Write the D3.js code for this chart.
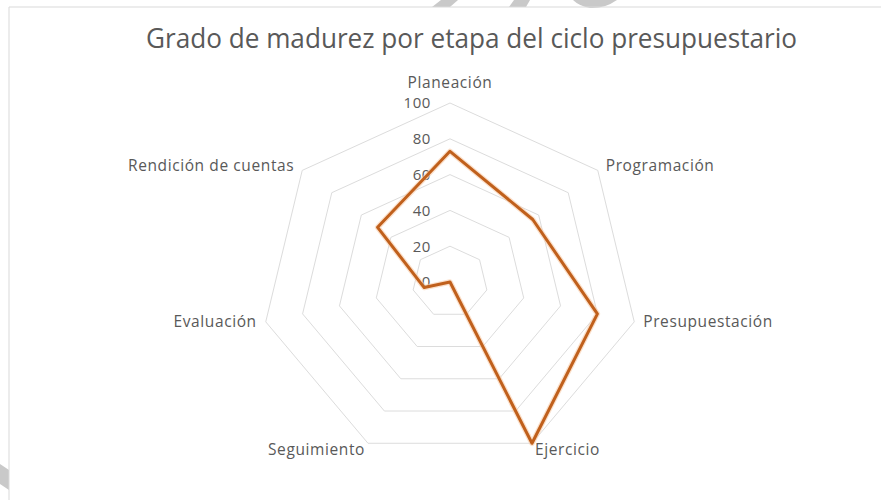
<!DOCTYPE html>
<html>
<head>
<meta charset="utf-8">
<script src="https://cdn.jsdelivr.net/npm/d3@7"></script>
<style>
  html, body { margin: 0; padding: 0; background: #ffffff; }
  svg { display: block; }
  text { font-family: "Open Sans", "Noto Sans", sans-serif; fill: #595959; }
</style>
</head>
<body>
<svg id="chart" width="881" height="500"></svg>
<script>
const title = "Grado de madurez por etapa del ciclo presupuestario";
const categories = ["Planeación", "Programación", "Presupuestación", "Ejercicio", "Seguimiento", "Evaluación", "Rendición de cuentas"];
const values = [73, 56, 80, 100, 0, 14, 49];
const tickValues = [0, 20, 40, 60, 80, 100];

const svg = d3.select("#chart");
const W = 881, H = 500;
const cx = 450, cy = 282;
const rx = d3.scaleLinear().domain([0, 100]).range([0, 189]);
const ry = d3.scaleLinear().domain([0, 100]).range([0, 179]);
const n = categories.length;
const angle = d3.scaleLinear().domain([0, n]).range([0, 2 * Math.PI]);

function pt(i, v) {
  const a = angle(i);
  return [cx + rx(v) * Math.sin(a), cy - ry(v) * Math.cos(a)];
}

svg.append("rect").attr("width", W).attr("height", H).attr("fill", "#ffffff");

// faint watermark fragments at edges
const wm = svg.append("g").attr("fill", "#c9c9c9");
wm.append("path").attr("d", "M432,7 L441,0 L458,0 L450,7 Z");
wm.append("path").attr("d", "M509,7 L514,0 L530,0 L526,7 Z");
wm.append("path").attr("d", "M573,0 L617,0 Q604,9 590,8 Q579,6 573,0 Z");
wm.append("path").attr("d", "M0,464 L9,470 L9,490 L0,484 Z");

// frame
svg.append("path").attr("d", "M9,500 L9,7 L881,7")
  .attr("fill", "none").attr("stroke", "#d9d9d9").attr("stroke-width", 1);

// title
svg.append("text")
  .attr("x", 471.5).attr("y", 48)
  .attr("text-anchor", "middle")
  .attr("font-size", 28)
  .attr("textLength", 651).attr("lengthAdjust", "spacingAndGlyphs")
  .style("fill", "#595959")
  .text(title);

// grid rings
const ring = d3.line().curve(d3.curveLinearClosed);
svg.append("g").selectAll("path")
  .data(tickValues.filter(t => t > 0))
  .join("path")
  .attr("d", t => ring(d3.range(n).map(i => pt(i, t))))
  .attr("fill", "none")
  .attr("stroke", "#dcdcdc")
  .attr("stroke-width", 1);

// tick labels
svg.append("g").selectAll("text")
  .data(tickValues)
  .join("text")
  .attr("x", cx - 19)
  .attr("y", t => cy - ry(t))
  .attr("dy", "0.36em")
  .attr("text-anchor", "end")
  .attr("font-size", 15)
  .attr("letter-spacing", 0.6)
  .text(t => t);

// category labels
const outer = d3.max(tickValues);
svg.append("g").selectAll("text")
  .data(categories)
  .join("text")
  .attr("font-size", 15.5)
  .attr("letter-spacing", 0.6)
  .each(function (c, i) {
    const [vx, vy] = pt(i, outer);
    const s = Math.sin(angle(i)), k = Math.cos(angle(i));
    const t = d3.select(this);
    if (Math.abs(s) < 0.01) {
      t.attr("x", vx).attr("y", vy - 15).attr("text-anchor", "middle");
    } else if (k > 0.3) {
      t.attr("x", vx + (s > 0 ? 8 : -8)).attr("y", vy + 0.5)
        .attr("text-anchor", s > 0 ? "start" : "end");
    } else if (k > -0.5) {
      t.attr("x", vx + (s > 0 ? 9 : -9)).attr("y", vy).attr("dy", "0.36em")
        .attr("text-anchor", s > 0 ? "start" : "end");
    } else {
      t.attr("x", vx + (s > 0 ? 3 : -3)).attr("y", vy + 12)
        .attr("text-anchor", s > 0 ? "start" : "end");
    }
  })
  .text(c => c);

// series
const seriesPts = values.map((v, i) => pt(i, v));
svg.append("path")
  .attr("d", ring(seriesPts))
  .attr("fill", "none")
  .attr("stroke", "#f8cba8")
  .attr("stroke-opacity", 0.6)
  .attr("stroke-width", 5.5)
  .attr("stroke-linejoin", "round");
svg.append("path")
  .attr("d", ring(seriesPts))
  .attr("fill", "none")
  .attr("stroke", "#c0601c")
  .attr("stroke-width", 3)
  .attr("stroke-linejoin", "round");
</script>
</body>
</html>
